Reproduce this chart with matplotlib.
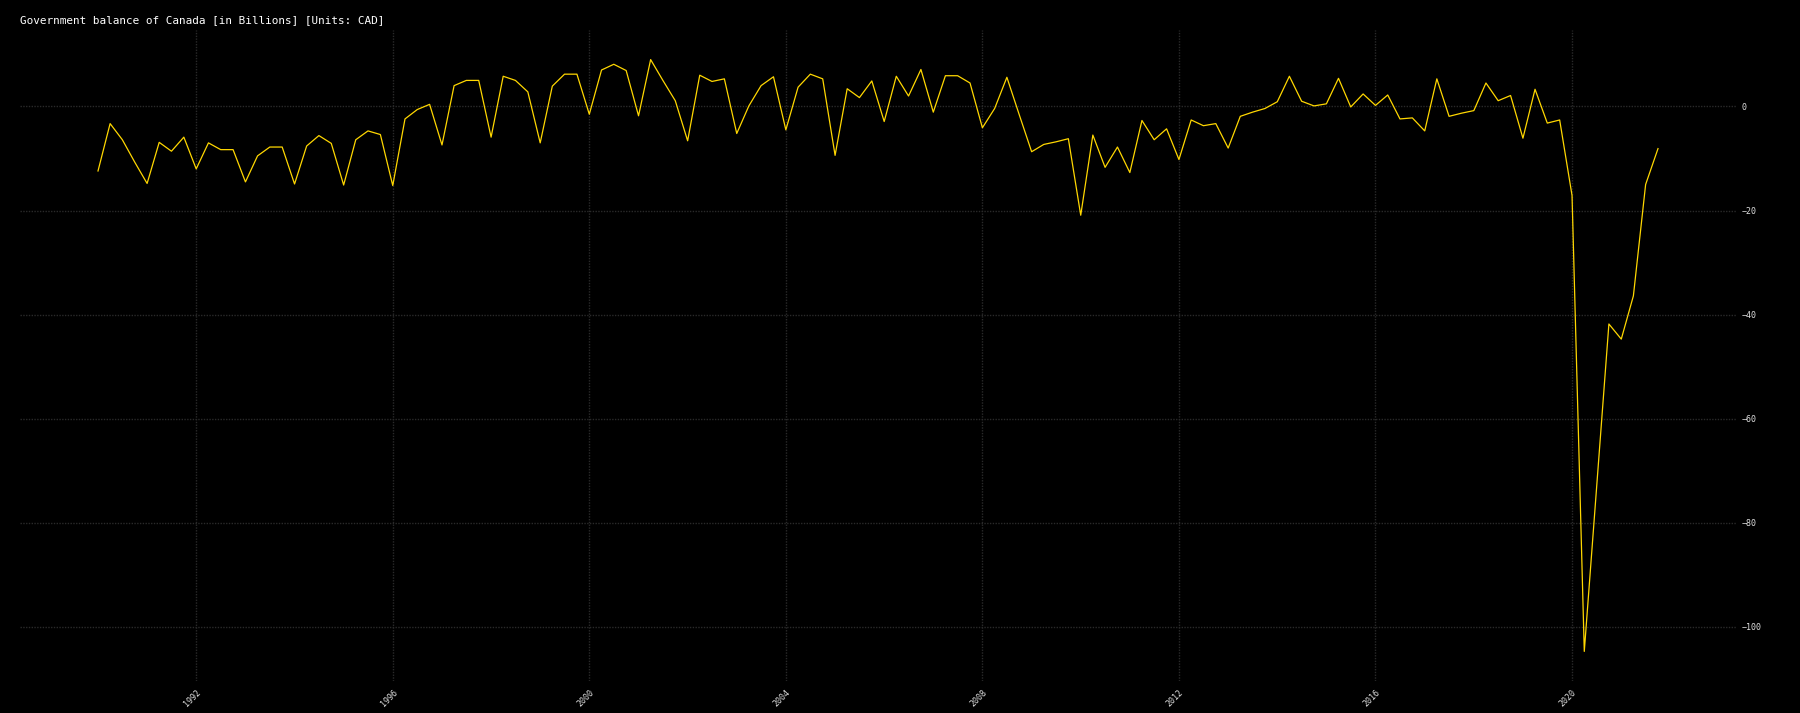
import matplotlib
matplotlib.use("Agg")
import matplotlib.pyplot as plt
import matplotlib.dates as mdates
import pandas as pd

# quarterly government balance, 1990Q1 .. 2021Q4 (billions CAD)
start = "1990-01-01"
balance = [
    -12.4, -3.3, -6.4, -10.7, -14.8, -6.9, -8.6, -5.9,
    -12.0, -7.0, -8.3, -8.3, -14.5, -9.5, -7.8, -7.8,
    -14.9, -7.6, -5.6, -7.1, -15.1, -6.4, -4.7, -5.4,
    -15.2, -2.4, -0.6, 0.4, -7.4, 4.0, 5.0, 5.0,
    -5.9, 5.8, 5.0, 2.8, -7.0, 3.9, 6.2, 6.2,
    -1.5, 7.0, 8.1, 6.9, -1.8, 9.0, 5.0, 1.1,
    -6.6, 6.0, 4.8, 5.3, -5.2, 0.1, 4.0, 5.7,
    -4.5, 3.7, 6.2, 5.3, -9.4, 3.4, 1.7, 4.9,
    -2.9, 5.8, 2.0, 7.1, -1.1, 5.9, 5.9, 4.5,
    -4.1, -0.4, 5.6, -1.6, -8.7, -7.3, -6.8, -6.2,
    -20.9, -5.5, -11.7, -7.8, -12.7, -2.7, -6.4, -4.3,
    -10.2, -2.6, -3.7, -3.3, -8.0, -1.9, -1.1, -0.4,
    0.9, 5.8, 1.0, 0.1, 0.5, 5.4, -0.1, 2.4,
    0.2, 2.2, -2.4, -2.2, -4.7, 5.3, -1.9, -1.3,
    -0.8, 4.5, 1.1, 2.1, -6.1, 3.3, -3.2, -2.6,
    -17.1, -104.7, -73.3, -41.8, -44.7, -36.4, -15.0, -8.1,
]
dates = pd.date_range(start, periods=len(balance), freq="QS")
y_ticks = [0, -20, -40, -60, -80, -100]

plt.rcParams['font.family'] = ['DejaVu Sans Mono']

fig = plt.figure(figsize=(18, 7.13), dpi=100, facecolor="black")
ax = fig.add_axes([20 / 1800, 32 / 713, 1716 / 1800, 651 / 713])
ax.set_facecolor("black")

ax.plot(dates, balance, color="#ffd700", linewidth=0.9)

ax.xaxis.set_major_locator(mdates.YearLocator(4))
ax.xaxis.set_major_formatter(mdates.DateFormatter("%Y"))
ax.set_yticks(y_ticks)
ax.yaxis.tick_right()

ax.grid(True, color="#2a2a2a", linestyle=(0, (1, 1)), linewidth=1.0)
for s in ax.spines.values():
    s.set_visible(False)
ax.tick_params(axis="both", length=0, colors="#e0e0e0", labelsize=6)
ax.tick_params(axis="y", pad=4)
ax.tick_params(axis="x", pad=5)
for lab in ax.get_xticklabels():
    lab.set_rotation(45)
    lab.set_ha("right")
    lab.set_rotation_mode("anchor")

fig.text(20 / 1800, 1 - 20 / 713, "Government balance of Canada [in Billions] [Units: CAD]",
         color="white", fontsize=7.9, va="center", ha="left")

fig.savefig("out.png", dpi=100, facecolor="black")
